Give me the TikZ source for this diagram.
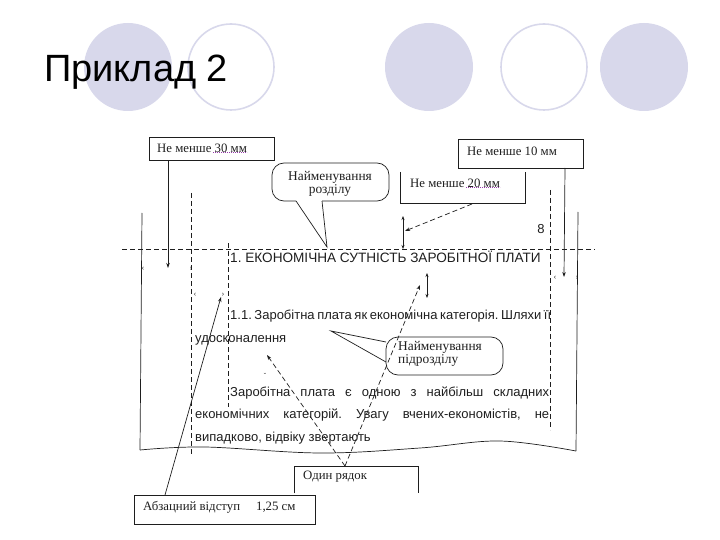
\documentclass[tikz,border=0pt]{standalone}
\usepackage{fontspec}
\setmainfont{Liberation Sans}
\newfontfamily\serifa{Liberation Serif}
\usetikzlibrary{arrows.meta}
\definecolor{lav}{RGB}{216,216,235}
\definecolor{ink}{RGB}{30,30,30}
\definecolor{spell}{RGB}{150,60,170}
\frenchspacing
\begin{document}
\begin{tikzpicture}[x=1pt,y=-1pt,
  ann/.style={font=\serifa\fontsize{12.8}{14}\selectfont, inner sep=0pt, anchor=west, text=ink},
  cal/.style={font=\serifa\fontsize{13.4}{14}\selectfont, inner sep=0pt, text=ink},
  body/.style={font=\fontsize{13}{15}\selectfont, inner sep=0pt, anchor=base west, text=ink},
  ln/.style={draw=ink, line width=0.7pt},
  dsh/.style={draw=ink, line width=0.7pt, dash pattern=on 5pt off 3pt},
  arr/.style={ln, -{Stealth[length=5pt,width=3.5pt]}},
  darr/.style={ln, {Stealth[length=4pt,width=3pt]}-{Stealth[length=4pt,width=3pt]}},
  darrow/.style={dsh, -{Stealth[length=5pt,width=3.5pt]}},
  tick/.style={font=\fontsize{7}{7}\selectfont, inner sep=0pt, text=ink},
  udot/.style={draw=spell, line width=0.8pt, dash pattern=on 0.8pt off 1.2pt},
  boxn/.style={inner sep=0pt, anchor=north west}
]
\useasboundingbox (0,0) rectangle (720,540);

% decorative circles
\fill[lav] (128,67) circle (44pt);
\draw[lav, line width=1.6pt, fill=white] (231,67) circle (43pt);
\fill[lav] (429,67) circle (44pt);
\draw[lav, line width=1.6pt, fill=white] (544,67) circle (43pt);
\fill[lav] (644,67) circle (44pt);

\node[anchor=base west, inner sep=0pt, font=\fontsize{38}{40}\selectfont] (title) at (44,82) {Приклад 2};

% page lines
\coordinate (hl1) at (122,249); \coordinate (hl2) at (595,249);
\draw[dsh] (hl1) -- (hl2);
\coordinate (vl1a) at (142,213); \coordinate (vl1b) at (140,450);
\draw[ln] (vl1a) -- (vl1b);
\coordinate (vd1a) at (191,193); \coordinate (vd1b) at (191,455);
\draw[dsh] (vd1a) -- (vd1b);
\coordinate (vd2a) at (228,243); \coordinate (vd2b) at (228,407);
\draw[dsh] (vd2a) -- (vd2b);
\coordinate (vd3a) at (550,190); \coordinate (vd3b) at (550,430);
\draw[dsh] (vd3a) -- (vd3b);
\coordinate (vr1a) at (578,212); \coordinate (vr1b) at (576,451);
\draw[ln] (vr1a) -- (vr1b);
\draw[ln] plot[smooth, tension=0.6] coordinates {(140,450) (205,447) (320,453) (420,448) (500,441) (576,451)};

% boxes
\node[boxn, draw=ink, line width=0.7pt, minimum width=125pt, minimum height=23pt] (b30) at (149,137) {};
\node[ann] (t30) at (157,148.5) {Не менше 30 мм};
\draw[udot] ([xshift=-34pt,yshift=1pt]t30.south east) -- ([yshift=1pt]t30.south east);

\node[boxn, draw=ink, line width=0.7pt, minimum width=125pt, minimum height=29pt] (b10) at (458,139) {};
\node[ann] (t10) at (467,151) {Не менше 10 мм};

\node[boxn, minimum width=125pt, minimum height=31pt] (b20) at (400,172) {};
\draw[ln] (b20.north west) -- (b20.south west) -- (b20.south east) -- (b20.north east);
\node[ann] (t20) at (410,183.5) {Не менше 20 мм};
\draw[udot] ([xshift=-34pt,yshift=1pt]t20.south east) -- ([yshift=1pt]t20.south east);

\node[boxn, minimum width=124pt, minimum height=27pt] (b1r) at (294,466) {};
\draw[ln] (b1r.south west) -- (b1r.north west) -- (b1r.north east) -- (b1r.south east);
\node[ann] (t1r) at (303,477) {Один рядок};

\node[boxn, draw=ink, line width=0.7pt, minimum width=181pt, minimum height=29pt] (bab) at (134,495) {};
\node[ann] (tab) at (143,507.5) {Абзацний відступ\hspace{16pt}1,25 см};

% callout 1
\draw[ln, rounded corners=12pt] (322,201) -- (389,201) -- (389,163) -- (272,163) -- (272,201) -- (296,201);
\coordinate (c1tip) at (327,247);
\draw[ln] (296,201) -- (c1tip) -- (322,201);
\node[cal, align=center] (c1) at (330,183.5) {Найменування\\[-1pt]розділу};

% callout 2
\draw[ln, rounded corners=12pt] (386,337) rectangle (503,375);
\coordinate (c2tip) at (331,331);
\draw[ln] (386,342) -- (c2tip) -- (386,362);
\node[cal, align=left, anchor=north west] (c2) at (398,341) {Найменування\\[-1pt]підрозділу};

% text
\node[body, font=\fontsize{13.6}{15}\selectfont] (h1) at (230,262.5) {1. ЕКОНОМІЧНА СУТНІСТЬ ЗАРОБІТНОЇ ПЛАТИ};
\node[body] (h2) at (230,319.5) {\makebox[321pt][s]{1.1. Заробітна плата як економічна категорія. Шляхи її}};
\node[body] (h2b) at (195,342) {удосконалення};
\node[body] (p1) at (230,396) {\makebox[319pt][s]{Заробітна плата є одною з найбільш складних}};
\node[body] (p2) at (195,418.5) {\makebox[354pt][s]{економічних категорій. Увагу вчених-економістів, не}};
\node[body] (p3) at (195,441.5) {випадково, відвіку звертають};
\node[font=\fontsize{13}{15}\selectfont, inner sep=0pt, text=ink] (pg) at (541,229) {8};

% tick marks
\node[tick] (k1) at (143,269) {‹};
\node[tick] (k2) at (191,269) {›};
\node[tick] (k3) at (195,295) {‹};
\node[tick] (k4) at (223,295) {›};
\node[tick] (k5) at (555,278) {‹};
\node[tick] (k6) at (577,278) {›};
\node[tick] (k7) at (265,376) {ˇ};

% arrows
\coordinate (a30e) at (168,268);
\draw[arr] (b30.south west -| a30e) -- (a30e);
\coordinate (a10s) at (565,168); \coordinate (a10e) at (564,277);
\draw[arr] (a10s) -- (a10e);
\coordinate (a20s) at (472,204); \coordinate (a20e) at (405,231);
\draw[darrow] (a20s) -- (a20e);
\coordinate (g1) at (403,216); \coordinate (g2) at (403,249);
\draw[darr] (g1) -- (g2);
\coordinate (g3) at (427,273); \coordinate (g4) at (427,298);
\draw[darr] (g3) -- (g4);
\coordinate (aabs) at (165,495); \coordinate (aabe) at (221,297);
\draw[arr] (aabs) -- (aabe);
\coordinate (r0) at (345,466); \coordinate (r1) at (420,285); \coordinate (r2) at (267,355);
\draw[darrow] (r0) -- (r1);
\draw[darrow] (r0) -- (r2);
\end{tikzpicture}
\end{document}
